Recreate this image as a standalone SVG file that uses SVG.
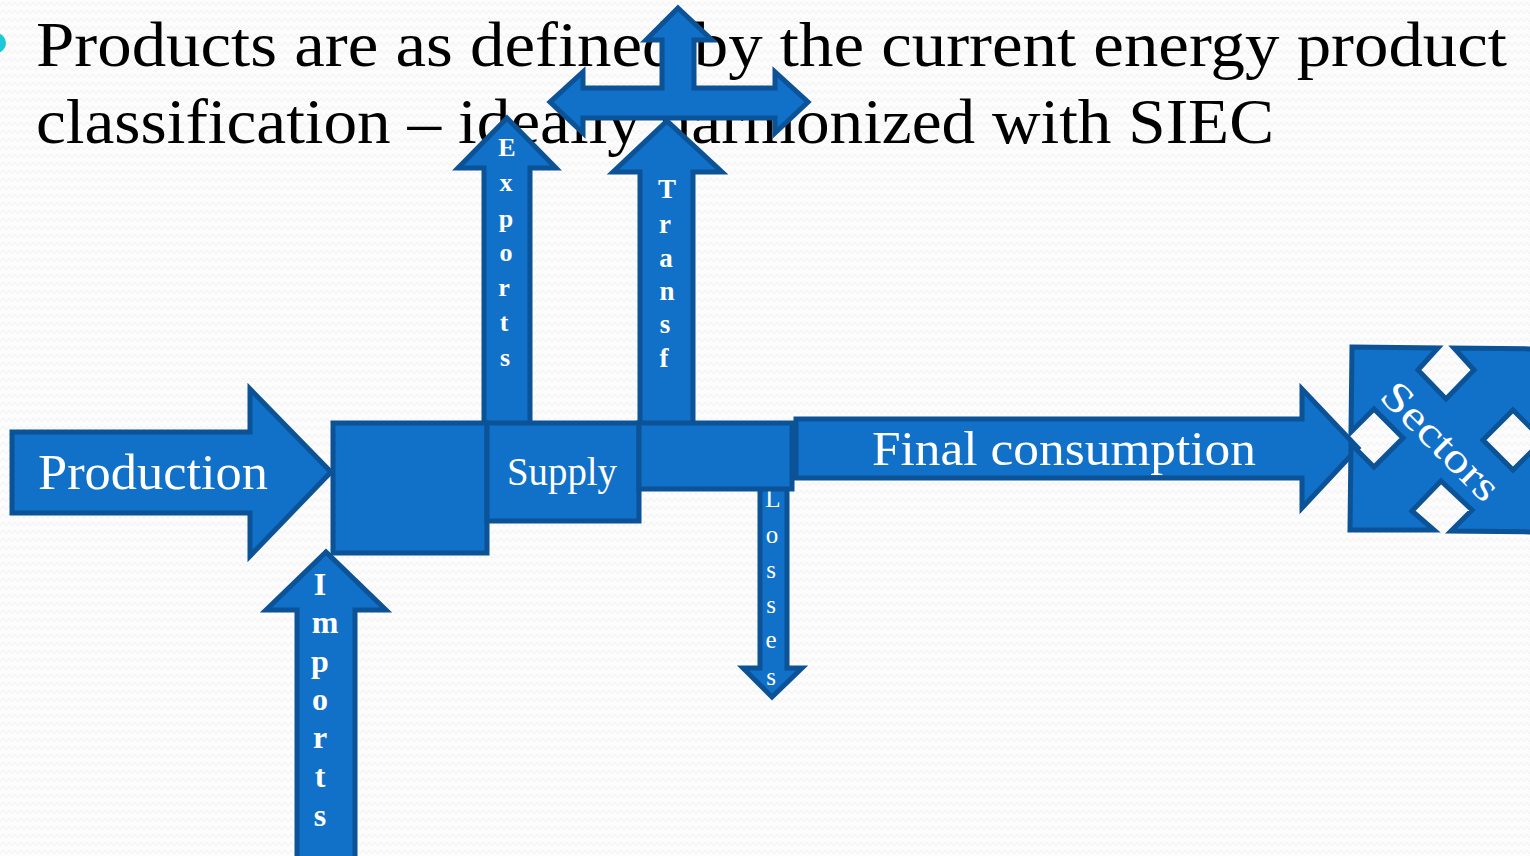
<svg xmlns="http://www.w3.org/2000/svg" width="1530" height="856" viewBox="0 0 1530 856">
  <defs>
    <pattern id="zigzag" width="12" height="8" patternUnits="userSpaceOnUse">
      <polyline points="0,6 3,2 6,6 9,2 12,6" fill="none" stroke="#f1f1f1" stroke-width="1"/>
    </pattern>
  </defs>
  <style>
    .shape { fill: #1170c8; stroke: #0b5396; stroke-width: 5; stroke-linejoin: miter; }
    .title { font-family: "Liberation Serif", "DejaVu Serif", serif; font-size: 63px; fill: #000; }
    .label { font-family: "Liberation Serif", "DejaVu Serif", serif; fill: #fff; }
    .v { font-family: "Liberation Serif", "DejaVu Serif", serif; fill: #fff; text-anchor: middle; }
    .vb { font-weight: bold; }
  </style>

  <!-- page background -->
  <rect x="0" y="0" width="1530" height="856" fill="#fcfcfc"/>
  <rect x="0" y="0" width="1530" height="856" fill="url(#zigzag)"/>

  <!-- heading -->
  <g id="heading">
    <circle cx="-4" cy="43" r="10" fill="#1ec8d4"/>
    <text class="title" x="36" y="66" textLength="1471" lengthAdjust="spacingAndGlyphs">Products are as defined by the current energy product</text>
    <text class="title" x="36" y="143" textLength="1238" lengthAdjust="spacingAndGlyphs">classification – ideally harmonized with SIEC</text>
  </g>

  <!-- flows into and out of the supply block -->
  <g id="connectors">
    <g id="production">
      <path class="shape" d="M12,432 L250,432 L250,389 L331,472 L250,556 L250,513 L12,513 Z"/>
      <text class="label" x="38" y="489" font-size="50" textLength="230" lengthAdjust="spacingAndGlyphs">Production</text>
    </g>

    <g id="imports">
      <path class="shape" d="M297,870 L297,610 L266,610 L326,552 L386,610 L355,610 L355,870 Z"/>
      <g class="v vb" font-size="32">
        <text x="320" y="595">I</text>
        <text x="325" y="633">m</text>
        <text x="320" y="672">p</text>
        <text x="320" y="710">o</text>
        <text x="320" y="748">r</text>
        <text x="320" y="787">t</text>
        <text x="320" y="826">s</text>
      </g>
    </g>

    <g id="exports">
      <path class="shape" d="M484,425 L484,168 L458,168 L507,118 L556,168 L530,168 L530,425 Z"/>
      <g class="v vb" font-size="26">
        <text x="507" y="156">E</text>
        <text x="506" y="191">x</text>
        <text x="506" y="227">p</text>
        <text x="506" y="261">o</text>
        <text x="504" y="296">r</text>
        <text x="504" y="331">t</text>
        <text x="505" y="366">s</text>
      </g>
    </g>

    <g id="transformation-outputs">
      <path class="shape" d="M678,8 L712,40 L694,40 L694,88 L775,88 L775,72 L808,102 L775,133 L775,118 L583,118 L583,133 L550,102 L583,72 L583,88 L662,88 L662,40 L646,40 Z"/>
    </g>

    <g id="transformation">
      <path class="shape" d="M640,425 L640,172 L613,172 L667,121 L722,172 L693,172 L693,425 Z"/>
      <g class="v vb" font-size="27">
        <text x="667" y="198">T</text>
        <text x="665" y="233">r</text>
        <text x="666" y="267">a</text>
        <text x="667" y="300">n</text>
        <text x="665" y="333">s</text>
        <text x="664" y="367">f</text>
      </g>
    </g>

    <g id="losses">
      <path class="shape" d="M760,487 L760,668 L743,668 L772,697 L802,668 L787,668 L787,487 Z"/>
      <g class="v" font-size="25">
        <text x="773" y="507">L</text>
        <text x="772" y="543">o</text>
        <text x="771" y="578">s</text>
        <text x="771" y="613">s</text>
        <text x="771" y="648">e</text>
        <text x="771" y="685">s</text>
      </g>
    </g>

    <g id="final-consumption">
      <path class="shape" d="M796,419 L1302,419 L1302,389 L1358,448 L1302,508 L1302,478 L796,478 Z"/>
      <text class="label" x="872" y="465" font-size="48" textLength="384" lengthAdjust="spacingAndGlyphs">Final consumption</text>
    </g>
  </g>

  <!-- supply block -->
  <g id="primary-supply">
    <rect class="shape" x="333" y="423" width="154" height="130"/>
  </g>
  <g id="supply">
    <rect class="shape" x="487" y="423" width="152" height="98"/>
    <text class="label" x="507" y="485" font-size="39" textLength="110" lengthAdjust="spacingAndGlyphs">Supply</text>
  </g>
  <g id="supply-out">
    <rect class="shape" x="639" y="423" width="153" height="66"/>
  </g>

  <!-- sectors block with four inward notches -->
  <g id="sectors">
    <path class="shape" d="M1352,347 L1438,348 L1418,370 L1446,399 L1474,370 L1454,348 L1540,349 L1540,437 L1513,410 L1483,440 L1513,470 L1540,443 L1540,532 L1451,531 L1472,510 L1441,481 L1412,511 L1434,530 L1350,530 L1351,444 L1374,467 L1403,438 L1374,409 L1351,432 Z"/>
    <text class="label" x="1441" y="455" font-size="42" text-anchor="middle" textLength="150" lengthAdjust="spacingAndGlyphs" transform="rotate(45 1441 441)">Sectors</text>
  </g>
</svg>
